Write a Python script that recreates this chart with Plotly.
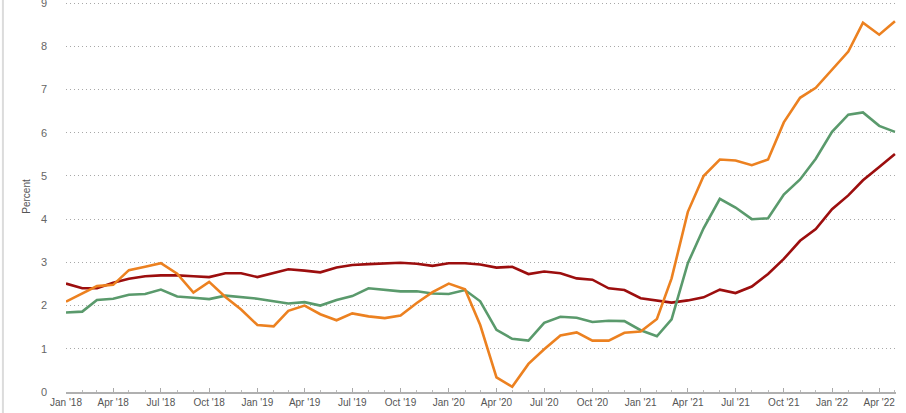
import pandas as pd
import plotly.graph_objects as go

# monthly observations, Jan 2018 .. May 2022
MONTHS = pd.date_range("2018-01-01", "2022-05-01", freq="MS")

ORANGE_SERIES = [
    2.09, 2.28, 2.45, 2.48, 2.82, 2.90, 2.98, 2.74, 2.30, 2.55, 2.20, 1.91,
    1.55, 1.52, 1.88, 2.00, 1.80, 1.66, 1.82, 1.75, 1.71, 1.77, 2.06, 2.31,
    2.51, 2.38, 1.55, 0.34, 0.12, 0.65, 0.99, 1.31, 1.38, 1.19, 1.19, 1.37,
    1.40, 1.69, 2.63, 4.17, 5.00, 5.38, 5.36, 5.25, 5.38, 6.24, 6.81, 7.04,
    7.47, 7.88, 8.55, 8.27, 8.58,
]
GREEN_SERIES = [
    1.84, 1.86, 2.13, 2.16, 2.25, 2.27, 2.37, 2.21, 2.18, 2.15, 2.23, 2.19,
    2.16, 2.10, 2.05, 2.08, 2.00, 2.13, 2.22, 2.40, 2.37, 2.33, 2.33, 2.28,
    2.27, 2.36, 2.10, 1.44, 1.23, 1.19, 1.60, 1.74, 1.72, 1.62, 1.65, 1.64,
    1.43, 1.29, 1.68, 2.98, 3.79, 4.47, 4.27, 4.00, 4.02, 4.57, 4.92, 5.40,
    6.02, 6.42, 6.47, 6.16, 6.02,
]
RED_SERIES = [
    2.51, 2.40, 2.40, 2.53, 2.62, 2.68, 2.70, 2.70, 2.68, 2.66, 2.75, 2.75,
    2.66, 2.76, 2.84, 2.81, 2.77, 2.88, 2.94, 2.96, 2.98, 2.99, 2.97, 2.92,
    2.98, 2.98, 2.95, 2.88, 2.90, 2.73, 2.79, 2.75, 2.63, 2.60, 2.40, 2.36,
    2.17, 2.12, 2.07, 2.12, 2.19, 2.37, 2.29, 2.44, 2.73, 3.08, 3.50, 3.77,
    4.23, 4.55, 4.90, 5.21, 5.51,
]

TICK_DATES = pd.date_range("2018-01-01", "2022-04-01", freq="QS")
TICK_LABELS = [d.strftime("%b '%y") for d in TICK_DATES]
Y_TICKS = list(range(0, 10))

SERIES_STYLE = [
    (RED_SERIES, "#9c0e0e"),
    (GREEN_SERIES, "#5a9a6c"),
    (ORANGE_SERIES, "#ec8120"),
]

fig = go.Figure()
for values, color in SERIES_STYLE:
    fig.add_trace(
        go.Scatter(
            x=MONTHS,
            y=values,
            mode="lines",
            line=dict(color=color, width=2.6),
            hoverinfo="x+y",
        )
    )

fig.update_layout(
    template="none",
    width=906,
    height=413,
    showlegend=False,
    paper_bgcolor="white",
    plot_bgcolor="white",
    margin=dict(l=66, r=10, t=1, b=21),
    font=dict(family="Liberation Sans, Arial, sans-serif", size=10, color="#555"),
    xaxis=dict(
        range=["2018-01-01", "2022-05-03"],
        tickvals=TICK_DATES,
        ticktext=TICK_LABELS,
        ticks="inside",
        ticklen=4,
        tickcolor="#aaa",
        showgrid=False,
        zeroline=False,
        showline=True,
        linecolor="#b0b0b0",
        linewidth=2,
        minor=dict(ticks="inside", ticklen=2, tickcolor="#bbb", dtick="M1"),
        tickfont=dict(size=10, color="#555"),
    ),
    yaxis=dict(
        range=[0, 9.05],
        tickvals=Y_TICKS,
        showgrid=True,
        gridcolor="#a8a8a8",
        griddash="1px,3px",
        gridwidth=1,
        zeroline=False,
        showline=False,
        ticks="",
        ticklabelstandoff=18,
        ticklabeloverflow="allow",
        tickfont=dict(size=11, color="#666"),
        title=dict(text="Percent", font=dict(size=10, color="#555"), standoff=8),
    ),
    shapes=[
        dict(
            type="line",
            xref="paper",
            yref="paper",
            x0=-0.076,
            x1=-0.076,
            y0=-0.06,
            y1=1.02,
            line=dict(color="#dcdcdc", width=2),
        )
    ],
)

# the page's default body margin would push the figure off the window
fig.write_html(
    "out.html",
    config={"displayModeBar": False},
    post_script="document.body.style.margin='0';document.body.style.overflow='hidden';",
)
